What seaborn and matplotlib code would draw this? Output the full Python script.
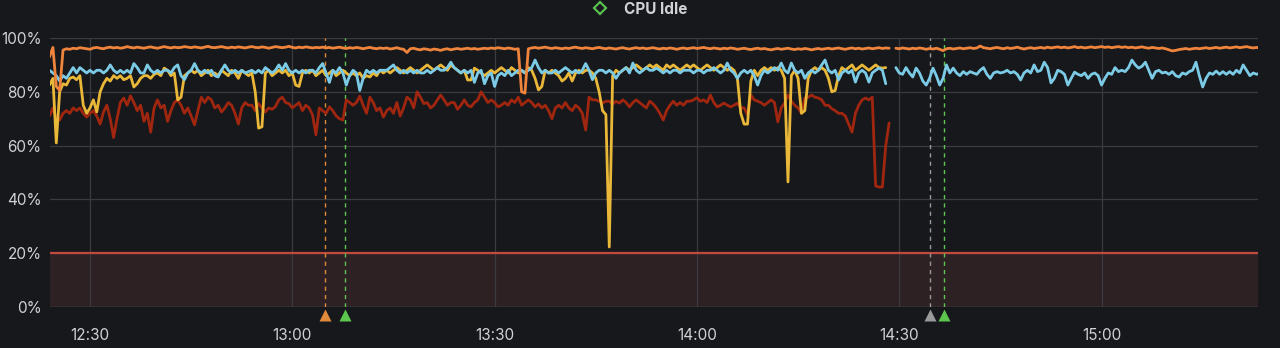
import numpy as np
import pandas as pd
import matplotlib
matplotlib.use("Agg")
import matplotlib.pyplot as plt
import matplotlib.dates as mdates
import matplotlib.transforms as mtransforms
from matplotlib.lines import Line2D
import seaborn as sns

# ---------------- data (CPU idle %, 30 s samples) ----------------
SEG1_START = "2024-01-01 12:24:00"
SEG2_START = "2024-01-01 14:29:30"
STEP = "30s"

orange_1 = [
    93, 96.5, 82, 80.5, 95.5, 96, 95.8, 96.2, 96, 96.4,
    96.2, 96, 95.8, 96.3, 96.5, 96.2, 96, 96.4, 96.6, 96.3,
    96.5, 96.2, 96.4, 96.8, 96.5, 96.3, 96.6, 96.4, 96.2, 96.5,
    96.7, 96.4, 96.2, 96.5, 96.8, 96.5, 96.3, 96.6, 96.4, 96.5,
    96.8, 96.6, 96.4, 96.7, 96.5, 96.3, 96.6, 96.9, 96.5, 96.4,
    96.6, 96.8, 96.5, 96.3, 96.6, 96.4, 96.7, 96.5, 96.3, 96.6,
    96.8, 96.5, 96.4, 96.7, 96.5, 96.2, 96.5, 96.8, 96.6, 96.4,
    96.6, 96.9, 96.5, 96.3, 96.6, 96.4, 96.7, 96.5, 96.3, 96.5,
    96.4, 96.6, 96.3, 96.5, 96.2, 96.4, 96.6, 96.3, 96.1, 96.4,
    96.2, 96.5, 96.3, 96.0, 96.3, 96.5, 96.2, 96.0, 96.3, 96.1,
    96.3, 95.9, 96.1, 96.4, 96.0, 95.8, 94.6, 96.0, 96.2, 95.8,
    95.6, 96.0, 95.8, 95.5, 95.9, 95.7, 95.4, 95.8, 96.0, 95.6,
    95.9, 96.1, 95.8, 96.0, 96.2, 95.9, 96.1, 95.8, 96.0, 96.2,
    96.0, 96.3, 96.1, 96.4, 96.2, 96.0, 96.3, 96.1, 95.8, 96.0,
    80.0, 79.5, 96.0, 96.3, 96.5, 96.2, 96.4, 96.6, 96.3, 96.1,
    96.4, 96.2, 96.0, 96.3, 96.1, 96.4, 96.6, 96.3, 96.1, 96.4,
    96.2, 96.0, 96.3, 96.5, 96.2, 96.0, 96.3, 96.1, 95.9, 96.2,
    96.4, 96.1, 95.9, 96.2, 96.4, 96.1, 96.3, 96.0, 96.2, 96.4,
    96.1, 95.9, 96.2, 96.0, 96.3, 96.1, 95.8, 96.1, 96.3, 96.0,
    96.2, 96.4, 96.1, 96.3, 96.5, 96.2, 96.0, 96.3, 96.1, 95.9,
    96.2, 96.0, 96.3, 96.1, 95.8, 96.0, 96.2, 95.9, 95.7, 96.0,
    96.2, 95.9, 96.1, 95.8, 95.6, 95.9, 96.1, 95.8, 96.0, 96.2,
    95.9, 95.7, 96.0, 95.8, 96.1, 95.9, 95.6, 95.9, 96.1, 95.8,
    96.0, 96.2, 95.9, 96.1, 96.3, 96.0, 95.8, 96.1, 96.3, 96.0,
    96.2, 95.9, 96.1, 96.3, 96.0, 96.2, 96.4, 96.1, 96.3, 96.2,
]

orange_2 = [
    96.2, 96.0, 96.3, 96.1, 95.9, 96.2, 96.0, 96.3, 96.1, 95.8,
    96.1, 95.9, 96.2, 95.8, 95.3, 96.0, 96.2, 95.9, 96.1, 96.3,
    96.0, 96.2, 96.4, 96.1, 96.3, 97.0, 96.4, 96.2, 96.0, 96.3,
    96.5, 96.2, 96.0, 96.4, 96.1, 96.3, 96.6, 96.2, 95.9, 96.2,
    96.4, 96.1, 96.3, 96.5, 96.2, 96.6, 96.3, 96.5, 96.7, 96.4,
    96.6, 96.3, 96.5, 96.8, 96.4, 96.6, 96.3, 96.5, 96.7, 96.4,
    96.6, 96.8, 96.5, 96.7, 96.4, 96.6, 96.8, 96.5, 96.7, 96.4,
    96.6, 96.3, 96.5, 96.7, 96.4, 96.2, 96.5, 96.3, 96.1, 96.3,
    96.0, 95.6, 95.2, 95.4, 95.7, 95.9, 96.1, 95.8, 96.0, 96.2,
    96.0, 96.2, 96.4, 96.1, 96.3, 96.5, 96.2, 96.4, 96.6, 96.3,
    96.5, 96.7, 96.4, 96.6, 96.8, 96.5, 96.3, 96.5, 96.2,
]

blue_1 = [
    88, 87, 86, 84, 86, 85, 87, 89, 87, 89,
    88, 87, 88, 87, 88, 88, 87, 88, 90, 88,
    87, 88, 87, 88, 87, 90.5, 89, 87, 87, 90,
    88, 87, 88, 87, 88, 88, 87, 89, 90, 86,
    84.5, 87, 88, 90.5, 88, 87, 88, 87, 88, 86,
    85.5, 88, 90, 88, 87, 88, 87, 88, 87, 87.5,
    88, 87, 88, 87, 89, 88, 87, 88, 90, 88,
    90.5, 88, 87, 88, 87, 88, 87, 88, 88, 87,
    89, 90.5, 87, 83.5, 88, 87, 89, 87, 82.5, 86,
    88, 87, 80.5, 85, 88, 87, 88, 87, 88, 88,
    88, 89, 90, 88, 87, 88, 87, 88, 87, 88,
    87, 87, 88, 87, 88, 89, 88, 88, 89, 91,
    89, 88, 87, 88, 87, 88, 83.5, 87, 88, 83,
    86, 87, 82, 86, 87, 86, 88, 86, 87, 88,
    88, 87, 88, 89, 91.8, 89, 87, 88, 87, 87,
    88, 87, 88, 89, 88, 87, 88, 87, 88, 90.5,
    88, 84.5, 87, 88, 88, 87, 88, 87, 85, 87,
    88, 89, 87, 90.7, 88, 87, 88, 89, 88, 88,
    88.8, 88, 87, 88, 87, 88, 88, 87, 88, 88,
    88, 87, 88, 88, 87, 88, 88, 89, 88, 87,
    88, 90.7, 88, 87, 85, 87, 88, 87, 88, 86,
    82.5, 86, 88, 87, 88, 89, 88, 90.7, 88, 87,
    90.7, 88, 87, 88, 85, 87, 88, 87, 88, 90,
    91.8, 88, 87, 88, 84.4, 87, 88, 87, 88, 83.6,
    87, 88, 87, 83.6, 87, 88, 88.8, 88, 83,
]

blue_2 = [
    89, 87, 86.5, 89, 87, 85.5, 88.8, 87, 84, 82.5,
    85, 88.8, 86, 82.5, 85, 90, 87, 88.8, 87, 86,
    87.5, 86.5, 87.5, 87, 86.5, 88, 89, 86.5, 85, 87,
    87.5, 87, 87.3, 88, 87, 87.5, 86.5, 84.4, 87, 88,
    87, 90, 87.5, 88, 91, 89, 83.3, 85, 88, 87.5,
    86.5, 82.5, 85, 87.3, 86.5, 86, 87, 85, 86.5, 87,
    86, 82.5, 85, 87, 86.5, 89, 87.5, 88, 87.5, 89,
    91.8, 90, 88.8, 89.5, 91, 88, 85, 87.5, 88, 87,
    87.3, 86.5, 87.5, 86, 85.5, 87, 86.5, 87.5, 88, 91,
    86, 81.8, 85, 87, 86.5, 87.7, 86.5, 87.5, 86.5, 87.5,
    86.5, 88, 87, 90, 88, 86, 87, 86.5, 87,
]

yellow_1 = [
    82.5, 85, 61, 80, 83, 82.5, 85, 85.5, 84.5, 86,
    75, 72, 74, 77, 72.5, 80, 83, 85, 84, 86,
    85, 86, 84.5, 85, 86, 81.8, 83, 85, 86, 86,
    85, 86.5, 87, 86, 88.8, 88, 86, 87, 77, 78,
    86, 87, 88, 87, 88, 86, 87, 88, 86, 87,
    86, 88, 87, 86, 88, 87, 85, 88, 87, 86,
    87, 80, 66.5, 67, 87, 88, 86, 87, 88, 87,
    88, 86, 87, 82.5, 82, 87, 88, 87, 88, 86,
    87, 88, 86, 87, 88, 86, 87, 88, 87, 86,
    87, 86, 87, 85, 86, 85.5, 87, 86, 88, 87,
    88, 87, 88, 89, 88, 87, 88, 89, 88, 87,
    88, 89, 90, 89, 88, 89, 90, 89, 88, 90,
    89, 88, 87, 88, 84.4, 84.4, 88.8, 88, 87, 86,
    87, 88, 87, 88, 89, 88, 87, 89, 88, 87,
    88, 87, 89, 88, 85, 80.7, 82, 88, 87, 88,
    87, 86, 84, 85, 87, 84, 87, 88, 87, 88,
    88, 87, 85, 80, 73, 71.5, 22.3, 86, 88, 87,
    88, 89, 88, 89, 90, 89, 88, 89, 90, 89,
    90, 89, 88, 90, 89, 90, 89, 88, 89, 90,
    89, 90, 89, 88, 89, 90, 89, 88, 89, 90,
    89, 88, 89, 88, 85, 72, 68, 68, 84, 88,
    86, 88, 89, 88, 89, 88, 89, 88, 85, 46.5,
    86, 88, 85, 72, 73, 85, 88, 89, 88, 89,
    88, 85, 80, 80.5, 86, 89, 88, 89, 90, 88,
    89, 90, 89, 88, 89, 90, 89, 88.8, 89,
]

red_1 = [
    71, 74, 70, 69.5, 72, 73, 72, 74, 73, 74,
    72, 70.6, 72, 73, 71, 68, 72.5, 75, 70, 63,
    70, 76, 77.7, 75, 78.5, 76, 73, 75, 69, 72,
    65, 74, 77, 74, 75, 69, 73, 76, 77, 75,
    72, 74, 71, 67.7, 73, 78, 76, 78, 77, 74,
    75, 72.5, 74, 76, 75, 72, 68, 74, 76, 75,
    75, 73, 75.6, 74, 72.5, 74, 73.5, 74.5, 77, 78,
    76, 75.6, 74, 75, 76, 73, 75, 74, 71.4, 64,
    74, 73, 72, 74.4, 73, 71, 70, 69.5, 77, 76,
    75, 76, 78.4, 75, 72, 78, 76, 73, 74, 70.6,
    73, 74, 72, 76, 71, 74, 78, 77, 74, 80,
    78, 75.6, 76, 74, 75, 77, 78.8, 77, 75, 76,
    76, 73.5, 75, 77, 75, 74.4, 76, 77, 80, 78,
    76, 77, 76, 74.4, 75, 76, 75, 77, 76, 78,
    75, 76, 77, 76, 74.4, 75.5, 74, 75, 73, 70,
    74, 75, 74, 76, 74, 73, 75, 74, 72, 65.8,
    78, 77, 77, 76.5, 75.8, 76.5, 76.5, 75.5, 76.5, 75.8,
    77, 76, 74.4, 76, 77, 76, 75, 74, 76.5, 75.5,
    74, 72, 69.5, 73, 75, 76.5, 75, 76, 75, 76.5,
    76.5, 77, 77.8, 76.5, 77, 76, 78.8, 76, 74.4, 75,
    75.8, 75, 74.4, 75, 75.8, 74, 74, 71.4, 78.8, 77,
    76.5, 76, 75, 76, 77, 76, 68.8, 74, 75.8, 78.8,
    76.5, 75, 74, 72, 77.7, 78, 78.8, 78, 77.7, 77,
    75, 75, 73.7, 73, 72, 72, 71, 68, 65, 72,
    75, 77, 77.7, 77, 78, 45, 44.6, 44.6, 60, 68.4,
]

series_names = ["node-3", "node-1", "node-2", "node-4"]   # draw order
series_colors = ["#a0260f", "#eab839", "#7ccbe6", "#ef843c"]
series_segments = [
    [red_1],
    [yellow_1],
    [blue_1, blue_2],
    [orange_1, orange_2],
]

threshold = 20

annotation_times = ["2024-01-01 13:04:51", "2024-01-01 13:07:49",
                    "2024-01-01 14:34:33", "2024-01-01 14:36:38"]
annotation_colors = ["#e08a3c", "#5cc64e", "#9a9a9a", "#5cc64e"]

y_ticks = [0, 20, 40, 60, 80, 100]
x_start = "2024-01-01 12:24:04"
x_end = "2024-01-01 15:23:12"
title = "CPU Idle"

# ---------------- build long table ----------------
frames = []
for name, segs in zip(series_names, series_segments):
    for k, vals in enumerate(segs):
        start = SEG1_START if k == 0 else SEG2_START
        t = pd.date_range(start, periods=len(vals), freq=STEP)
        frames.append(pd.DataFrame({"time": t, "idle": vals,
                                    "series": name, "segment": f"{name}-{k}"}))
df = pd.concat(frames, ignore_index=True)

# ---------------- style ----------------
BG = "#17181c"
GRID = "#3a3b3f"
TXT = "#d0d1d4"

sns.set_theme(style="dark", rc={
    "figure.facecolor": BG, "axes.facecolor": BG,
    "axes.edgecolor": BG, "text.color": TXT,
    "xtick.color": TXT, "ytick.color": TXT,
})
plt.rcParams["font.family"] = ["Inter", "DejaVu Sans"]

fig = plt.figure(figsize=(12.8, 3.48), dpi=100)
ax = fig.add_axes([50 / 1280, 1 - 307 / 348, 1208 / 1280, 269 / 348])

# threshold region
ax.axhspan(0, threshold, color="#2d2124", zorder=0.5, lw=0)
ax.axhline(threshold, color="#c24a3c", lw=1.6, zorder=1)

sns.lineplot(data=df, x="time", y="idle", hue="series", units="segment",
             estimator=None, hue_order=series_names,
             palette=dict(zip(series_names, series_colors)),
             linewidth=2.0, legend=False, sort=False, ax=ax, zorder=3)

ax.set_ylim(0, 100)
ax.set_xlim(pd.Timestamp(x_start), pd.Timestamp(x_end))
ax.set_yticks(y_ticks)
ax.set_yticklabels([f"{v}%" for v in y_ticks])
ax.xaxis.set_major_locator(mdates.MinuteLocator(byminute=[0, 30]))
ax.xaxis.set_major_formatter(mdates.DateFormatter("%H:%M"))
ax.tick_params(axis="y", length=0, pad=6, labelsize=11)
ax.tick_params(axis="x", length=0, pad=15, labelsize=11)
ax.set_xlabel("")
ax.set_ylabel("")
ax.grid(True, color=GRID, lw=0.9, zorder=0)
ax.set_axisbelow(True)
for s in ax.spines.values():
    s.set_visible(False)
ax.axhline(0, color="#48494d", lw=1.0, zorder=1)

# annotations
trans = mtransforms.blended_transform_factory(ax.transData, ax.transAxes)
for t, c in zip(annotation_times, annotation_colors):
    tt = pd.Timestamp(t)
    ax.axvline(tt, color=c, lw=1.0, ls=(0, (3, 3)), zorder=2)
    ax.plot([tt], [-0.028], marker="^", ms=8, color=c, transform=trans,
            clip_on=False, zorder=4, mec="none")

# panel title
fig.text(0.512, 1 - 14 / 348, title, ha="center", va="baseline",
         fontsize=11, fontweight="bold", color=TXT)
fig.add_artist(Line2D([600 / 1280], [1 - 8 / 348], marker="D", ms=6,
                      mfc="none", mec="#5cc64e", mew=1.5,
                      transform=fig.transFigure))

fig.savefig("out.png", dpi=100, facecolor=BG)
